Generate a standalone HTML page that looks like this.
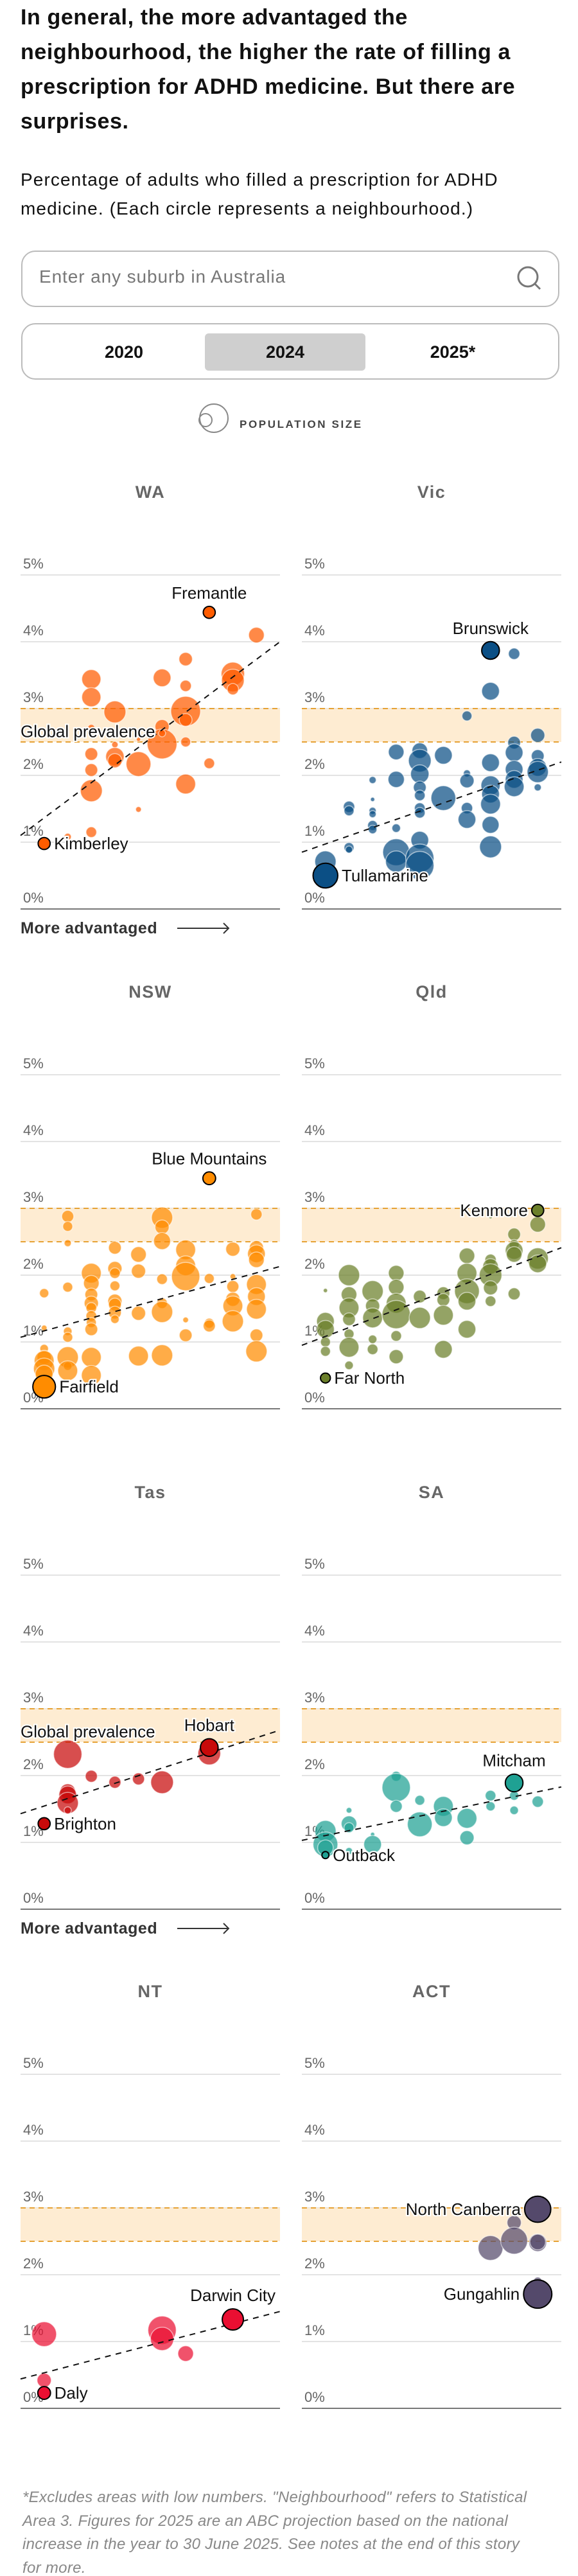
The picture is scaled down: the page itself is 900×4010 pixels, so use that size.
<!DOCTYPE html>
<html><head><meta charset="utf-8">
<style>
body{margin:0;background:#fff;font-family:"Liberation Sans",sans-serif;}
#root{position:relative;width:900px;height:4010px;overflow:hidden;}
.abs{position:absolute;white-space:nowrap;}
#title{left:32px;top:0;font-size:34px;font-weight:bold;line-height:54px;color:#111;letter-spacing:0.6px;}
#sub{left:32px;top:257px;font-size:28px;line-height:45px;color:#111;letter-spacing:1.1px;}
#search{left:33px;top:390px;width:834px;height:84px;border:2px solid #bbb;border-radius:22px;}
#search span{position:absolute;left:26px;top:23px;font-size:28px;color:#777;letter-spacing:0.9px;}
#toggle{left:33px;top:503px;width:834px;height:84px;border:2px solid #bbb;border-radius:22px;}
.tg{position:absolute;top:14px;height:58px;line-height:58px;font-size:27px;font-weight:bold;color:#111;text-align:center;width:250px;}
#foot{left:35px;top:3870px;font-size:24px;font-style:italic;color:#888;line-height:36.5px;letter-spacing:0.3px;}
</style></head><body>
<div id="root">
<div id="title" class="abs">In general, the more advantaged the<br>neighbourhood, the higher the rate of filling a<br>prescription for ADHD medicine. But there are<br>surprises.</div>
<div id="sub" class="abs">Percentage of adults who filled a prescription for ADHD<br>medicine. (Each circle represents a neighbourhood.)</div>
<div id="search" class="abs"><span>Enter any suburb in Australia</span>
<svg style="position:absolute;left:768px;top:20px" width="44" height="44"><circle cx="19" cy="19" r="15" fill="none" stroke="#777" stroke-width="3"/><line x1="29" y1="29" x2="38" y2="38" stroke="#777" stroke-width="3"/></svg></div>
<div id="toggle" class="abs">
<div class="tg" style="left:33px">2020</div>
<div class="tg" style="left:284px;background:#cfcfcf;border-radius:6px;">2024</div>
<div class="tg" style="left:545px">2025*</div>
</div>
<svg class="abs" style="left:300px;top:620px" width="320" height="64">
<circle cx="33" cy="31" r="22" fill="none" stroke="#888" stroke-width="2"/><circle cx="20" cy="34" r="10" fill="none" stroke="#888" stroke-width="2"/>
<text x="73" y="46" font-size="17" font-weight="bold" fill="#444" letter-spacing="2.6" font-family="Liberation Sans, sans-serif">POPULATION SIZE</text></svg>
<svg id="charts" class="abs" style="left:0;top:0" width="900" height="4010"></svg>
<div id="foot" class="abs">*Excludes areas with low numbers. "Neighbourhood" refers to Statistical<br>Area 3. Figures for 2025 are an ABC projection based on the national<br>increase in the year to 30 June 2025. See notes at the end of this story<br>for more.</div>
</div>
<script>
const states = ["WA","Vic","NSW","Qld","Tas","SA","NT","ACT"];
const yTicks = [0,1,2,3,4,5];
const tickLabels = ["0%","1%","2%","3%","4%","5%"];
const bandLow = 2.5, bandHigh = 3;

const waDecile = [2,3,3,3,3,3,3,3,4,4,4,4,5,5,5,6,6,6,6,7,7,7,7,7,7,8,9,9,9,10];
const waRate = [1.08,3.44,3.17,2.71,2.32,2.08,1.77,1.15,2.95,2.46,2.28,2.22,2.17,1.49,2.54,3.46,2.73,2.47,2.63,3.74,3.34,2.96,2.83,2.50,1.87,2.18,3.52,3.42,3.29,4.10];
const waPop = [10,27,27,10,18,18,31,15,31,9,26,20,35,8,6,25,20,42,10,19,16,42,18,14,28,15,33,32,16,22];

const vicDecile = [1,2,2,2,2,3,3,3,3,3,3,4,4,4,4,4,5,5,5,5,5,5,5,5,5,5,6,6,7,7,7,7,7,8,8,8,8,8,8,8,9,9,9,9,9,9,10,10,10,10,10];
const vicRate = [0.71,1.53,1.47,0.92,0.89,1.93,1.64,1.47,1.42,1.25,1.19,2.35,1.94,1.21,0.85,0.71,2.37,2.22,2.02,1.82,1.70,1.51,1.44,1.03,0.76,0.65,2.30,1.66,2.89,2.03,1.92,1.51,1.34,3.26,2.19,1.85,1.72,1.57,1.26,0.93,3.82,2.49,2.34,2.09,1.94,1.83,2.60,2.29,2.12,2.05,1.82];
const vicPop = [30,16,14,14,10,10,6,10,10,14,12,22,23,12,38,30,22,32,26,18,15,15,15,25,40,40,25,35,14,10,20,16,25,25,25,27,25,28,24,31,16,18,25,25,25,28,20,18,25,30,10];

const nswDecile = [1,1,1,1,1,1,1,2,2,2,2,2,2,2,2,2,3,3,3,3,3,3,3,3,3,3,4,4,4,4,4,4,4,4,5,5,5,5,6,6,6,6,6,6,6,7,7,7,7,7,8,8,8,9,9,9,9,9,9,10,10,10,10,10,10,10,10,10];
const nswRate = [1.21,1.73,0.90,0.77,0.72,0.60,0.52,2.88,2.73,2.48,1.82,1.16,1.07,0.77,0.64,0.57,2.03,1.88,1.71,1.58,1.51,1.39,1.29,1.19,0.77,0.50,2.41,2.10,2.03,1.84,1.61,1.56,1.44,1.34,2.31,2.06,1.43,0.79,2.86,2.72,2.51,1.94,1.58,1.45,0.80,2.38,2.14,1.98,1.33,1.10,1.95,1.28,1.24,2.39,1.98,1.83,1.64,1.54,1.31,2.91,2.41,2.32,2.23,1.86,1.68,1.49,1.10,0.86];
const nswPop = [8,13,12,20,28,30,25,17,14,10,14,12,14,30,12,28,28,22,18,20,15,15,14,18,28,28,18,20,15,14,20,18,18,12,22,20,20,28,30,20,24,15,15,30,30,28,28,40,8,18,14,14,17,20,8,17,20,28,30,16,20,25,22,28,25,28,18,30];

const qldDecile = [1,1,1,1,1,2,2,2,2,2,2,2,3,3,3,3,3,4,4,4,4,4,4,5,5,6,6,6,6,7,7,7,7,7,8,8,8,8,8,8,9,9,9,9,9,10,10,10];
const qldRate = [1.77,1.31,1.19,1.00,0.86,2.00,1.71,1.51,1.34,1.12,0.92,0.65,1.76,1.54,1.36,1.04,0.89,2.03,1.82,1.58,1.41,1.09,0.78,1.68,1.36,1.73,1.63,1.40,0.89,2.29,2.03,1.76,1.61,1.19,2.87,2.23,2.13,2.00,1.81,1.61,2.61,2.46,2.37,2.31,1.72,2.76,2.25,2.17];
const qldPop = [6,25,25,14,14,30,22,28,18,14,28,12,30,20,28,12,15,22,22,28,40,15,20,18,30,18,18,28,25,22,28,35,25,25,5,16,22,32,20,15,18,14,25,22,17,22,30,25];

const tasDecile = [2,2,2,2,2,3,4,5,6,8];
const tasRate = [2.32,1.76,1.71,1.59,1.48,1.99,1.90,1.95,1.90,2.33];
const tasPop = [40,22,25,30,10,17,17,17,32,32];

const saDecile = [1,1,1,2,2,2,2,3,3,4,4,4,5,5,6,6,7,7,8,8,9,9,10];
const saRate = [1.17,0.97,0.92,1.48,1.28,1.22,0.87,1.12,0.97,1.99,1.82,1.54,1.63,1.27,1.54,1.37,1.36,1.07,1.70,1.54,1.70,1.48,1.61];
const saPop = [30,35,22,8,22,14,10,6,25,14,40,17,14,35,28,25,28,20,15,13,13,12,16];

const ntDecile = [1,1,6,6,7];
const ntRate = [1.11,0.42,1.17,1.04,0.82];
const ntPop = [35,20,40,33,22];

const actDecile = [8,9,9,10,10,10];
const actRate = [2.40,2.78,2.51,2.48,2.49,1.90];
const actPop = [35,20,38,25,22,12];

const hlName = ["Fremantle","Kimberley","Brunswick","Tullamarine","Blue Mountains","Fairfield","Kenmore","Far North","Hobart","Brighton","Mitcham","Outback","Darwin City","Daly","North Canberra","Gungahlin"];
const hlState = ["WA","WA","Vic","Vic","NSW","NSW","Qld","Qld","Tas","Tas","SA","SA","NT","NT","ACT","ACT"];
const hlDecile = [8,1,8,1,8,1,10,1,8,1,9,1,9,1,10,10];
const hlRate = [4.44,0.98,3.87,0.50,3.45,0.33,2.97,0.46,2.42,1.28,1.89,0.81,1.33,0.23,2.98,1.71];
const hlPop = [17,17,25,35,18,32,17,14,25,17,25,10,30,18,37,40];
const hlPlace = ["above","right","above","right","above","right","left","right","above","right","above","right","above","right","left","left"];

const trendStart = [1.1,0.85,1.07,0.95,1.43,1.03,0.44,null];
const trendEnd = [4.0,2.2,2.13,2.41,2.68,1.83,1.45,null];

const stateDecile = [waDecile,vicDecile,nswDecile,qldDecile,tasDecile,saDecile,ntDecile,actDecile];
const stateRate = [waRate,vicRate,nswRate,qldRate,tasRate,saRate,ntRate,actRate];
const statePop = [waPop,vicPop,nswPop,qldPop,tasPop,saPop,ntPop,actPop];
const stateColor = ["#ff5c00","#0b4f85","#ff8c00","#6b7f2a","#c80a0a","#1fa193","#ea0f32","#54496b"];

const NS="http://www.w3.org/2000/svg";
const svg=document.getElementById('charts');
const rowTop=[895,1673,2452,3229];
const colLeft=[32,470];
const PW=404, PH=520;
function mk(tag,attrs,parent){const e=document.createElementNS(NS,tag);for(const k in attrs)e.setAttribute(k,attrs[k]);(parent||svg).appendChild(e);return e;}
function rScale(p){return p*0.55;}

states.forEach((st,i)=>{
  const row=Math.floor(i/2), col=i%2;
  const L=colLeft[col], T=rowTop[row];
  const xS=d=>L+d*PW/11;
  const yS=v=>T+PH-v*PH/5;
  const g=mk('g',{});
  
  
  const t=mk('text',{x:L+PW/2,y:T-120,'text-anchor':'middle','font-size':27,'font-weight':'bold',fill:'#666','letter-spacing':1.5,'font-family':'Liberation Sans, sans-serif'},g);
  t.textContent=st;
  
  
  yTicks.forEach((v,k)=>{
    const ln=mk('line',{x1:L,x2:L+PW,y1:yS(v),y2:yS(v),stroke:v===0?'#777':'#e3e3e3','stroke-width':2},g);
    
    
    const tl=mk('text',{x:L+4,y:yS(v)-10,'font-size':22,fill:'#666','font-family':'Liberation Sans, sans-serif'},g);
    tl.textContent=tickLabels[k];
    
    
  });
  const band=mk('rect',{x:L,y:yS(bandHigh),width:PW,height:yS(bandLow)-yS(bandHigh),fill:'#feecd2'},g);
  
  
  [bandLow,bandHigh].forEach(v=>{
    const dl=mk('line',{x1:L,x2:L+PW,y1:yS(v),y2:yS(v),stroke:'#e6a235','stroke-width':2,'stroke-dasharray':'8 6'},g);
    
    
  });
  const D=stateDecile[i],R=stateRate[i],P=statePop[i];
  D.forEach((d,k)=>{
    const c=mk('circle',{cx:xS(d),cy:yS(R[k]),r:rScale(P[k]),fill:stateColor[i],'fill-opacity':0.72,stroke:'rgba(255,255,255,0.55)','stroke-width':1.5},g);
    
    
  });
  if(trendStart[i]!==null){
    const tr=mk('line',{x1:L,y1:yS(trendStart[i]),x2:L+PW,y2:yS(trendEnd[i]),stroke:'#111','stroke-width':2,'stroke-dasharray':'9 8'},g);
    
    
  }
  if(st==='WA'||st==='Tas'){
    const gp=mk('text',{x:L,y:yS(2.65)+8,'font-size':26,fill:'#111',stroke:'#fff','stroke-width':4,'paint-order':'stroke','font-family':'Liberation Sans, sans-serif'},g);
    gp.textContent='Global prevalence';
    
    
    const ma=mk('text',{x:L,y:T+PH+38,'font-size':25,'font-weight':'bold',fill:'#333','letter-spacing':0.5,'font-family':'Liberation Sans, sans-serif'},g);
    ma.textContent='More advantaged';
    
    
    const ar=mk('path',{d:`M${L+244} ${T+PH+30} H${L+324} M${L+316} ${T+PH+22} L${L+324} ${T+PH+30} L${L+316} ${T+PH+38}`,fill:'none',stroke:'#333','stroke-width':2},g);
    
    
  }
  hlName.forEach((nm,k)=>{
    if(hlState[k]!==st) return;
    const cx=xS(hlDecile[k]), cy=yS(hlRate[k]), r=rScale(hlPop[k]);
    const hc=mk('circle',{cx:cx,cy:cy,r:r,fill:stateColor[i],stroke:'#000','stroke-width':2},g);
    
    
    let tx=cx,ty=cy+9,anchor='middle';
    if(hlPlace[k]==='above'){ty=cy-r-12;}
    else if(hlPlace[k]==='right'){tx=cx+r+6;anchor='start';}
    else {tx=cx-r-6;anchor='end';}
    const lb=mk('text',{x:tx,y:ty,'text-anchor':anchor,'font-size':26,fill:'#111',stroke:'#fff','stroke-width':4,'paint-order':'stroke','font-family':'Liberation Sans, sans-serif'},g);
    lb.textContent=nm;
    
    
  });
});
</script>
</body></html>
